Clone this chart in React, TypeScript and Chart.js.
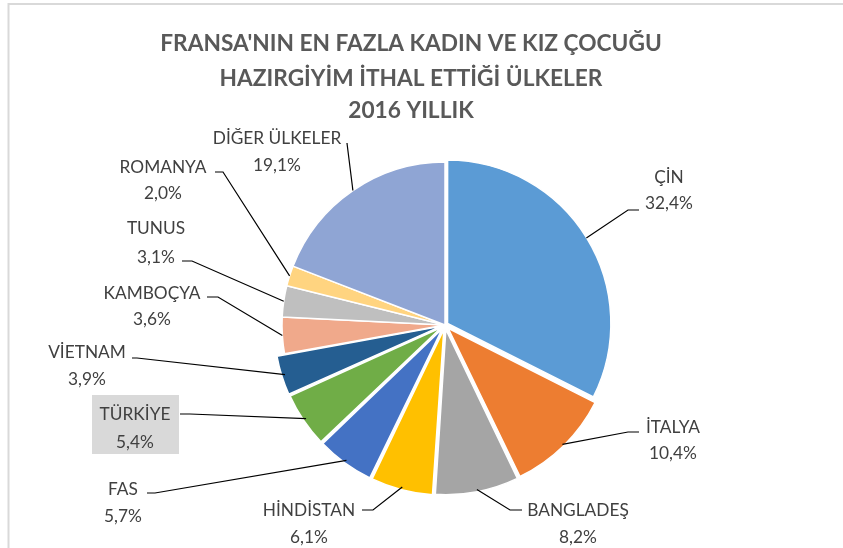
import React, { useEffect, useRef } from "react";
import { Chart, registerables } from "chart.js";

Chart.register(...registerables);

const categories = [
  "ÇİN",
  "İTALYA",
  "BANGLADEŞ",
  "HİNDİSTAN",
  "FAS",
  "TÜRKİYE",
  "VİETNAM",
  "KAMBOÇYA",
  "TUNUS",
  "ROMANYA",
  "DİĞER ÜLKELER",
];
const values = [32.4, 10.4, 8.2, 6.1, 5.7, 5.4, 3.9, 3.6, 3.1, 2.0, 19.1];
const valueLabels = ["32,4%", "10,4%", "8,2%", "6,1%", "5,7%", "5,4%", "3,9%", "3,6%", "3,1%", "2,0%", "19,1%"];
const titleLines = [
  "FRANSA'NIN EN FAZLA KADIN VE KIZ ÇOCUĞU",
  "HAZIRGİYİM İTHAL ETTİĞİ ÜLKELER",
  "2016 YILLIK",
];

const colors = [
  "#5B9BD5",
  "#ED7D31",
  "#A5A5A5",
  "#FFC000",
  "#4472C4",
  "#70AD47",
  "#255E91",
  "#F0A98B",
  "#BFBFBF",
  "#FFD480",
  "#8FA5D4",
];
const offsets = [12, 18, 18, 18, 18, 18, 18, 0, 0, 0, 0];

// label layout relative to pie centre: [textCx, line1Y, line2Y, elbowX, elbowY, endX]
const labelLayout = [
  [224, -148, -122, 183, -115, 194],
  [228, 102, 128, 183, 107, 194],
  [133, 185, 212, 65, 185, 77],
  [-136, 185, 212, -72, 185, -83],
  [-322, 164, 191, -290, 168, -298],
  [-310, 89, 117, -255, 89, -265],
  [-358, 27, 54, -308, 33, -313],
  [-293, -32, -6, -227, -28, -238],
  [-289, -97, -68, -253, -64, -263],
  [-282, -158, -132, -222, -153, -230],
  [-168, -187, -160, -98, -182, -98],
];
const highlightIndex = 5;

const FONT = "Lato, 'Open Sans', sans-serif";

const labelPlugin = {
  id: "labelPlugin",
  beforeDraw(chart: any) {
    const ctx = chart.ctx;
    ctx.save();
    ctx.fillStyle = "#ffffff";
    ctx.fillRect(0, 0, chart.width, chart.height);
    // frame
    ctx.strokeStyle = "#D9D9D9";
    ctx.lineWidth = 2;
    ctx.beginPath();
    ctx.moveTo(8.5, chart.height);
    ctx.lineTo(8.5, 4);
    ctx.lineTo(chart.width, 4);
    ctx.stroke();
    // title
    ctx.fillStyle = "#595959";
    ctx.font = "bold 22.7px " + FONT;
    ctx.textAlign = "center";
    ctx.textBaseline = "alphabetic";
    const tys = [51, 86, 118];
    titleLines.forEach((t, i) => ctx.fillText(t, 411, tys[i]));
    ctx.restore();
  },
  afterDatasetsDraw(chart: any) {
    const ctx = chart.ctx;
    const meta = chart.getDatasetMeta(0);
    ctx.save();
    meta.data.forEach((arc: any, i: number) => {
      const p = arc.getProps(["x", "y", "startAngle", "endAngle", "outerRadius"], true);
      const cx = p.x;
      const cy = p.y;
      const mid = (p.startAngle + p.endAngle) / 2;
      const shift = offsets[i] / 4;
      const ax = cx + Math.cos(mid) * (p.outerRadius + shift);
      const ay = cy + Math.sin(mid) * (p.outerRadius + shift);
      const L = labelLayout[i];
      if (i === highlightIndex) {
        ctx.fillStyle = "#D9D9D9";
        ctx.fillRect(cx - 353, cy + 70, 87, 59);
      }
      ctx.strokeStyle = "#000000";
      ctx.lineWidth = 1.2;
      ctx.beginPath();
      ctx.moveTo(ax, ay);
      ctx.lineTo(cx + L[3], cy + L[4]);
      ctx.lineTo(cx + L[5], cy + L[4]);
      ctx.stroke();
      ctx.fillStyle = "#404040";
      ctx.font = "17.3px " + FONT;
      ctx.textAlign = "center";
      ctx.textBaseline = "middle";
      ctx.fillText(categories[i], cx + L[0], cy + L[1]);
      ctx.fillText(valueLabels[i], cx + L[0], cy + L[2]);
    });
    ctx.restore();
  },
};

export default function App() {
  const ref = useRef<HTMLCanvasElement>(null);
  useEffect(() => {
    if (!ref.current) return;
    const chart = new Chart(ref.current, {
      type: "pie",
      data: {
        labels: categories,
        datasets: [
          {
            data: values,
            backgroundColor: colors,
            borderColor: "#ffffff",
            borderWidth: 1.5,
            offset: offsets,
          },
        ],
      },
      options: {
        responsive: false,
        animation: false,
        radius: 163,
        layout: { padding: { left: 100, right: 53, top: 150, bottom: 48 } },
        plugins: {
          legend: { display: false },
          tooltip: { enabled: false },
          title: { display: false },
        },
      } as any,
      plugins: [labelPlugin],
    });
    return () => chart.destroy();
  }, []);
  return (
    <div style={{ position: "fixed", left: 0, top: 0, width: 843, height: 548, background: "#fff" }}>
      <canvas ref={ref} width={843} height={548} style={{ width: 843, height: 548, display: "block" }} />
    </div>
  );
}
